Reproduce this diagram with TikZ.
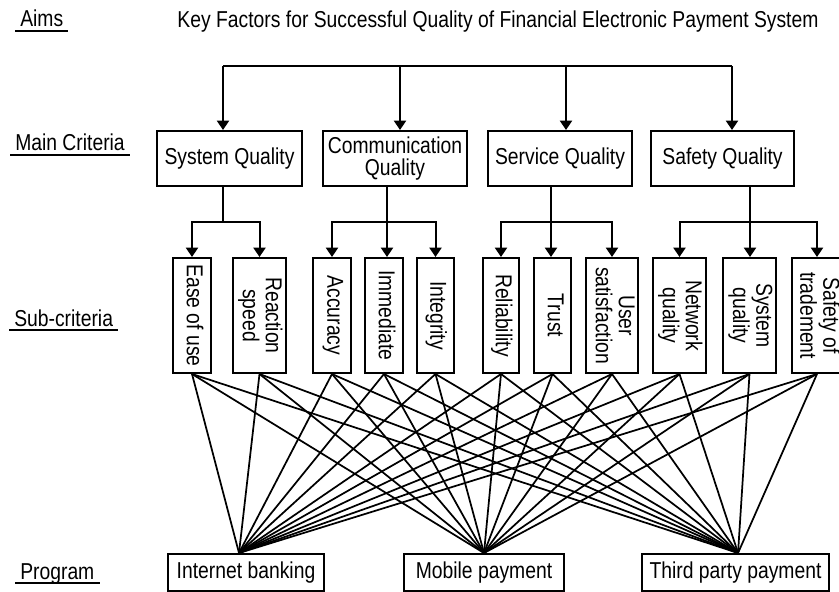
\documentclass[tikz,border=0pt]{standalone}
\usepackage{fontspec}
\setmainfont{Liberation Sans}[FakeStretch=0.84]
\usetikzlibrary{arrows.meta}
% vertical (top-to-bottom) text for the sub-criteria boxes
\newcommand{\vtext}[1]{\rotatebox{-90}{\begin{tabular}{@{}c@{}}#1\end{tabular}}}

\begin{document}
\begin{tikzpicture}[x=0.75pt,y=-0.75pt,
  every node/.style={font=\fontsize{17.25pt}{16.2pt}\selectfont, inner sep=0pt},
  box/.style={draw, line width=1.5pt, align=center},
  mainbox/.style={box, minimum width=108.75pt, minimum height=41.25pt},
  subbox/.style={box, minimum height=86.25pt},
  progbox/.style={box, minimum height=27.75pt},
  wire/.style={line width=1.5pt},
  arr/.style={wire, -{Triangle[length=7pt,width=9pt]}},
  link/.style={line width=1.3pt},
  lab/.style={anchor=base west},
  uline/.style={line width=1.5pt}]

\useasboundingbox (0,0) rectangle (839,592);
\clip (0,0) rectangle (839,592);

% level labels
\node[lab] (aims) at (20,27) {Aims};
\node[lab] (mainlab) at (15,150.5) {Main Criteria};
\node[lab] (sublab) at (14,326) {Sub-criteria};
\node[lab] (proglab) at (20,579) {Program};
\foreach \n in {aims,mainlab,sublab,proglab}
  \draw[uline] ([xshift=-3.75pt,yshift=-3.2pt]\n.base west) -- ([xshift=3.75pt,yshift=-3.2pt]\n.base east);

% goal
\node[anchor=base] (title) at (498,28) {Key Factors for Successful Quality of Financial Electronic Payment System};

% main criteria
\node[mainbox] (sysq)  at (229.5,158.5) {System Quality};
\node[mainbox, minimum width=108pt] (comq) at (395,158.5) {Communication\\Quality};
\node[mainbox, minimum width=108pt] (serq) at (560,158.5) {Service Quality};
\node[mainbox, minimum width=107.25pt] (safq) at (722.5,158.5) {Safety Quality};

% distribution line from the goal
\coordinate (t1) at (223,66);
\coordinate (t2) at (400,66);
\coordinate (t3) at (566,66);
\coordinate (t4) at (732,66);
\draw[wire] (t1) -- (t4);
\draw[arr] (t1) -- (t1 |- sysq.north);
\draw[arr] (t2) -- (t2 |- comq.north);
\draw[arr] (t3) -- (t3 |- serq.north);
\draw[arr] (t4) -- (t4 |- safq.north);

% sub-criteria
\node[subbox, minimum width=28.5pt]   (ease)  at (192,315.5)   {\vtext{Ease of use}};
\node[subbox, minimum width=39.75pt]  (react) at (259.5,315.5) {\vtext{Reaction\\speed}};
\node[subbox, minimum width=28.5pt]   (accu)  at (332,315.5)   {\vtext{Accuracy}};
\node[subbox, minimum width=28.5pt]   (imme)  at (384,315.5)   {\vtext{Immediate}};
\node[subbox, minimum width=27.75pt]  (inte)  at (435.5,315.5) {\vtext{Integrity}};
\node[subbox, minimum width=27pt]     (reli)  at (501,315.5)   {\vtext{Reliability}};
\node[subbox, minimum width=27.75pt]  (trus)  at (552.5,315.5) {\vtext{Trust}};
\node[subbox, minimum width=39pt]     (usat)  at (612,315.5)   {\vtext{User\\satisfaction}};
\node[subbox, minimum width=39.75pt]  (netq)  at (679.5,315.5) {\vtext{Network\\quality}};
\node[subbox, minimum width=39.75pt]  (sysu)  at (749.5,315.5) {\vtext{System\\quality}};
\node[subbox, minimum width=37.5pt]   (safe)  at (817,315.5)   {\vtext{Safety of\\tradement}};

% branching from main criteria to sub-criteria
\coordinate (j1) at (223,222);
\coordinate (j2) at (387,222);
\coordinate (j3) at (551,222);
\coordinate (j4) at (750,222);
\draw[wire] (j1 |- sysq.south) -- (j1);
\draw[wire] (j2 |- comq.south) -- (j2);
\draw[wire] (j3 |- serq.south) -- (j3);
\draw[wire] (j4 |- safq.south) -- (j4);
\draw[arr] (j1) -| (ease.north);
\draw[arr] (j1) -| (react.north);
\draw[arr] (j2) -| (accu.north);
\draw[arr] (j2) -- (j2 |- imme.north);
\draw[arr] (j2) -| (inte.north);
\draw[arr] (j3) -| (reli.north);
\draw[arr] (j3) -- (j3 |- trus.north);
\draw[arr] (j3) -| (usat.north);
\draw[arr] (j4) -| (netq.north);
\draw[arr] (j4) -- (j4 |- sysu.north);
\draw[arr] (j4) -| (safe.north);

% programs
\node[progbox, minimum width=117pt]    (ib) at (246,572.5)   {Internet banking};
\node[progbox, minimum width=120pt]    (mp) at (484,572.5)   {Mobile payment};
\node[progbox, minimum width=140.25pt] (tp) at (735.5,572.5) {Third party payment};

% every sub-criterion is linked to every program
\foreach \s in {ease,react,accu,imme,inte,reli,trus,usat,netq,sysu,safe} {
  \draw[link] (\s.south) -- ([xshift=-5.25pt]ib.north);
  \draw[link] (\s.south) -- (mp.north);
  \draw[link] (\s.south) -- ([xshift=1.9pt]tp.north);
}
\end{tikzpicture}
\end{document}
